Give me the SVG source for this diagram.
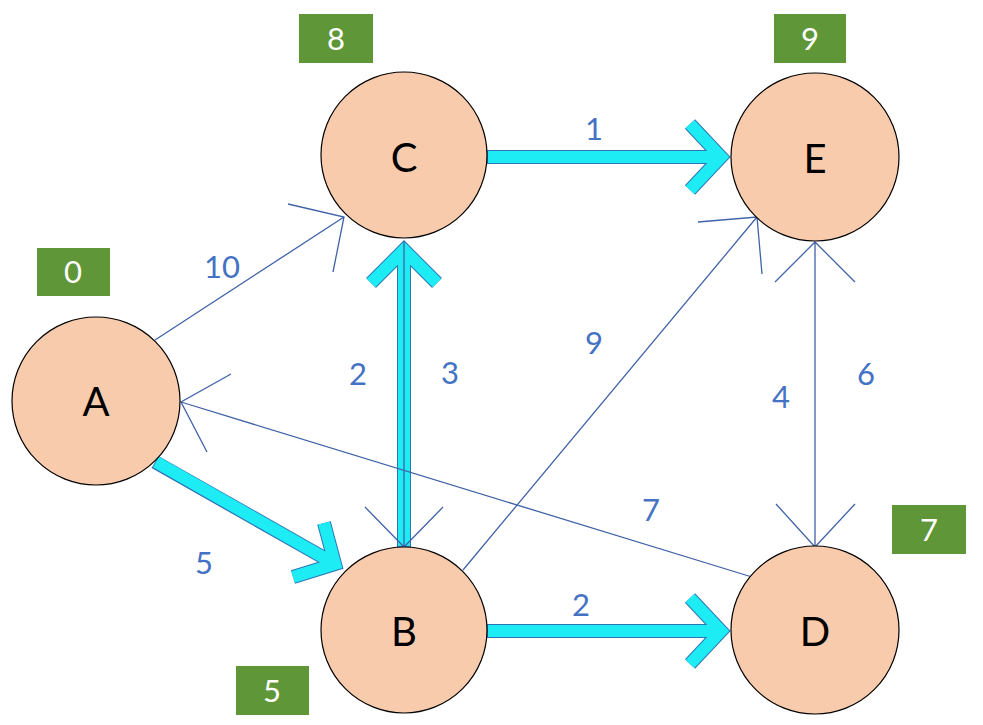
<svg xmlns="http://www.w3.org/2000/svg" width="983" height="725" viewBox="0 0 983 725">
<style>
.node circle{fill:#F8CBAD;stroke:#000;stroke-width:1.2}
.node text{font-family:Lato,"Liberation Sans",sans-serif;font-size:40px;fill:#000;text-anchor:middle;dominant-baseline:central}
.badge rect{fill:#5E9638}
.badge text{font-family:Lato,"Liberation Sans",sans-serif;font-size:31px;fill:#fff;text-anchor:middle;dominant-baseline:central}
.thin{fill:none;stroke:#4062A8;stroke-width:1.3}
.hlo{fill:none;stroke:#2E75B6;stroke-width:14;stroke-linejoin:miter;stroke-miterlimit:10}
.hli{fill:none;stroke:#1DECF5;stroke-width:12;stroke-linejoin:miter;stroke-miterlimit:10}
.lbl{font-family:Lato,"Liberation Sans",sans-serif;font-size:31px;fill:#4472C4;text-anchor:middle;dominant-baseline:central}
</style>
<rect width="983" height="725" fill="#fff"/>
<g id="connectors">
  <g id="hl-outline">
    <path class="hlo" d="M487,157 L721,157 M690,124 L721,157 L690,190"/>
    <path class="hlo" d="M487,631 L721,631 M690,598 L721,631 L690,664"/>
    <path class="hlo" d="M404,547 L404,250 M371,283 L404,250 L437,283"/>
    <path class="hlo" d="M155,462 L335,564 M324,523 L335,564 L293,577"/>
  </g>
  <g id="hl-fill">
    <path class="hli" d="M488,157 L721,157 M690,124 L721,157 L690,190"/>
    <path class="hli" d="M488,631 L721,631 M690,598 L721,631 L690,664"/>
    <path class="hli" d="M404,546 L404,250 M371,283 L404,250 L437,283"/>
    <path class="hli" d="M156,462 L335,564 M324,523 L335,564 L293,577"/>
  </g>
  <path class="thin" d="M155,340 L344,217 M288,204 L344,217 L333,272"/>
  <path class="thin" d="M752,577 L181,402 M231,374 L181,402 L207,452"/>
  <path class="thin" d="M463,570 L757,217 M698,222 L757,217 L762,274"/>
  <path class="thin" d="M815,547 L815,242 M775,282 L815,242 L855,282"/>
  <path class="thin" d="M776,504 L815,547 L855,504"/>
  <path class="thin" d="M404,241 L404,547 M365,507 L404,547 L443,507"/>
  <text class="lbl" x="222" y="266">10</text>
  <text class="lbl" x="358" y="373">2</text>
  <text class="lbl" x="450" y="372">3</text>
  <text class="lbl" x="594" y="342">9</text>
  <text class="lbl" x="781" y="396">4</text>
  <text class="lbl" x="866" y="373">6</text>
  <text class="lbl" x="651" y="509">7</text>
  <text class="lbl" x="204" y="562">5</text>
  <text class="lbl" x="594" y="128">1</text>
  <text class="lbl" x="581" y="604">2</text>
</g>
<g id="node-A" class="node"><circle cx="96" cy="401" r="84"/><text x="96" y="401">A</text></g>
<g id="node-C" class="node"><circle cx="404" cy="155" r="83"/><text x="404" y="157">C</text></g>
<g id="node-E" class="node"><circle cx="815" cy="157" r="84"/><text x="815" y="158">E</text></g>
<g id="node-B" class="node"><circle cx="404" cy="630" r="83"/><text x="404" y="631">B</text></g>
<g id="node-D" class="node"><circle cx="815" cy="630" r="84"/><text x="815" y="631">D</text></g>
<g id="badge-C" class="badge"><rect x="299" y="14" width="74" height="49"/><text x="336" y="38">8</text></g>
<g id="badge-E" class="badge"><rect x="774" y="14" width="72" height="49"/><text x="810" y="38">9</text></g>
<g id="badge-A" class="badge"><rect x="37" y="248" width="73" height="48"/><text x="73" y="271">0</text></g>
<g id="badge-D" class="badge"><rect x="892" y="505" width="74" height="49"/><text x="929" y="529">7</text></g>
<g id="badge-B" class="badge"><rect x="236" y="666" width="73" height="49"/><text x="272" y="690">5</text></g>
</svg>
